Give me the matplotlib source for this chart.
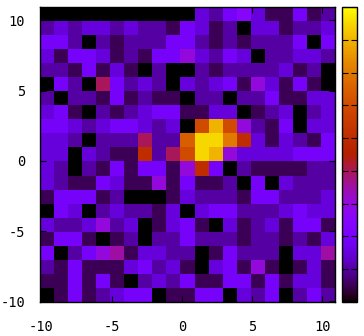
import matplotlib
matplotlib.use("Agg")
import matplotlib.pyplot as plt
import numpy as np

plt.rcParams['font.family'] = ['DejaVu Sans Mono']
plt.rcParams['axes.unicode_minus'] = False

# counts per cell, top row first (21 rows, 21 columns)
row_00 = [0,0,0,0,0,0,0,0,0,0,0,3,2,4,5,3,1,1,4,1,2]
row_01 = [2,3,2,3,3,2,3,2,2,1,4,3,1,2,0,3,3,1,2,2,3]
row_02 = [4,4,2,0,2,1,2,2,2,4,4,2,1,2,1,2,2,2,4,0,4]
row_03 = [3,1,4,4,3,1,2,1,4,4,6,3,2,4,3,0,2,2,3,3,2]
row_04 = [2,2,1,4,1,3,1,0,2,0,0,2,1,2,2,2,2,3,1,2,0]
row_05 = [0,4,2,0,8,4,2,3,2,0,3,2,3,4,1,6,3,1,4,1,0]
row_06 = [2,0,2,2,1,4,1,2,1,1,0,2,2,0,2,2,4,1,1,3,3]
row_07 = [3,4,1,0,2,1,2,3,4,4,1,1,3,3,0,1,2,3,0,2,3]
row_08 = [4,4,3,2,3,4,4,3,2,3,0,12,16,12,6,2,1,4,0,3,3]
row_09 = [3,3,2,0,2,2,2,8,2,2,13,17,17,14,10,3,1,3,2,1,4]
row_10 = [3,3,0,3,2,1,1,10,2,8,12,17,16,6,3,3,3,3,4,4,4]
row_11 = [3,2,0,2,1,4,1,4,4,1,6,10,4,0,2,1,1,1,1,2,2]
row_12 = [3,2,1,1,4,3,1,1,6,1,4,1,1,2,0,4,0,3,2,2,2]
row_13 = [1,4,4,4,1,2,0,0,0,1,3,2,2,2,1,4,4,2,2,2,3]
row_14 = [0,4,3,0,2,3,2,2,1,3,0,3,4,4,2,2,2,3,4,3,3]
row_15 = [3,2,2,3,6,2,3,0,1,3,4,1,0,3,1,2,3,1,4,4,1]
row_16 = [1,4,4,1,0,1,2,0,2,2,4,2,2,2,1,2,2,1,2,1,3]
row_17 = [4,0,2,4,6,7,1,3,3,2,2,0,1,4,2,2,2,0,3,3,7]
row_18 = [2,1,4,1,1,1,3,4,2,3,1,0,3,4,1,6,1,0,1,3,1]
row_19 = [1,1,4,1,4,1,0,2,3,2,4,1,1,4,4,1,4,1,3,3,1]
row_20 = [0,1,4,1,2,3,4,4,0,1,1,4,4,0,3,2,4,0,2,4,2]
rows = [row_00,row_01,row_02,row_03,row_04,row_05,row_06,row_07,row_08,row_09,row_10,
        row_11,row_12,row_13,row_14,row_15,row_16,row_17,row_18,row_19,row_20]
x_ticks = [-10,-5,0,5,10]
y_ticks = [-10,-5,0,5,10]
cb_ticks = [0,2,4,6,8,10,12,14,16,18]
cb_max = 18

W, H = 364, 336
fig = plt.figure(figsize=(W/100, H/100), dpi=100)
ax = fig.add_axes([39.5/W, 1-302/H, 295/W, 295/H])
x0, y0 = -10.14, -10.05
im = ax.imshow(np.array(rows), cmap='gnuplot', vmin=0, vmax=cb_max, interpolation='nearest',
               aspect='auto', extent=(x0, x0+21, y0, y0+21), origin='upper')
ax.set_xlim(x0, x0+21)
ax.set_ylim(y0, y0+21)
ax.set_xticks(x_ticks, [str(t) for t in x_ticks])
ax.set_yticks(y_ticks, [str(t) for t in y_ticks])
ax.tick_params(direction='in', top=True, right=True, length=4.3, width=0.8, labelsize=9.8, colors='black')
ax.tick_params(axis='x', pad=13)
ax.tick_params(axis='y', pad=10.4)
for s in ax.spines.values():
    s.set_linewidth(1.0)

cax = fig.add_axes([341.5/W, 1-302/H, 15/W, 295/H])
cb = fig.colorbar(im, cax=cax)
cb.set_ticks(cb_ticks)
cb.ax.tick_params(direction='in', left=True, right=True, labelleft=False, labelright=False, length=4.3, width=0.8)
cb.outline.set_linewidth(1.0)
fig.savefig('out.png', dpi=100)
